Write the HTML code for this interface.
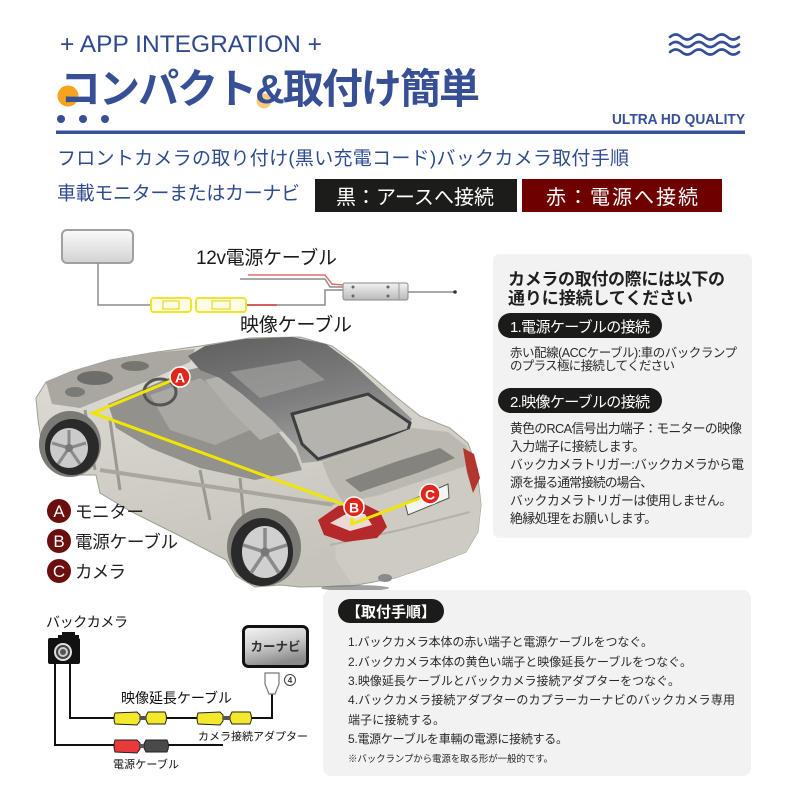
<!DOCTYPE html>
<html><head><meta charset="utf-8">
<style>
html,body{margin:0;padding:0;background:#fff;width:800px;height:800px;overflow:hidden;}
svg{display:block;}
text{font-family:"Liberation Sans","Noto Sans CJK JP",sans-serif;}
</style></head>
<body>
<svg width="800" height="800" viewBox="0 0 800 800" xmlns="http://www.w3.org/2000/svg">
<defs>
 <linearGradient id="mon" x1="0" y1="0" x2="0" y2="1"><stop offset="0" stop-color="#fbfbfb"/><stop offset="1" stop-color="#d2d2d2"/></linearGradient>
 <linearGradient id="nav" x1="0" y1="0" x2="0.35" y2="1"><stop offset="0" stop-color="#f6f6f6"/><stop offset="0.5" stop-color="#cfcfcf"/><stop offset="1" stop-color="#8a8a8a"/></linearGradient>
 <linearGradient id="body" x1="0" y1="0" x2="0.3" y2="1"><stop offset="0" stop-color="#dfddd5"/><stop offset="1" stop-color="#c6c4ba"/></linearGradient>
 <linearGradient id="roof" x1="0" y1="0" x2="0.4" y2="1"><stop offset="0" stop-color="#5e5e5e"/><stop offset="0.6" stop-color="#7f7f7f"/><stop offset="1" stop-color="#a0a09e"/></linearGradient>
 <linearGradient id="cam" x1="0" y1="0" x2="0" y2="1"><stop offset="0" stop-color="#f2f2f2"/><stop offset="1" stop-color="#b9b9b9"/></linearGradient>
</defs>

<!-- ===== HEADER ===== -->
<text x="60" y="52" font-size="24" fill="#30498c" textLength="262" lengthAdjust="spacingAndGlyphs">+ APP INTEGRATION +</text>
<g fill="none" stroke="#354f96" stroke-width="2.6" stroke-linecap="round">
 <path d="M670,37 q5.75,-5 11.5,0 t11.5,0 t11.5,0 t11.5,0 t11.5,0 t11.5,0"/>
 <path d="M670,44.5 q5.75,-5 11.5,0 t11.5,0 t11.5,0 t11.5,0 t11.5,0 t11.5,0"/>
 <path d="M670,52 q5.75,-5 11.5,0 t11.5,0 t11.5,0 t11.5,0 t11.5,0 t11.5,0"/>
</g>
<circle cx="68" cy="96" r="10.5" fill="#f6a31d"/>
<circle cx="264" cy="101" r="7.5" fill="#fbc97f"/>
<text x="60" y="103" font-size="41" font-weight="700" fill="#364f95" textLength="420">コンパクト&amp;取付け簡単</text>
<circle cx="61" cy="119" r="4" fill="#364f95"/>
<circle cx="83" cy="119" r="4" fill="#364f95"/>
<circle cx="105" cy="119" r="4" fill="#364f95"/>
<text x="612" y="124" font-size="15" font-weight="700" fill="#364f95" textLength="133" lengthAdjust="spacingAndGlyphs">ULTRA HD QUALITY</text>
<rect x="56" y="130.5" width="689" height="3.5" fill="#3a5199"/>

<text x="57" y="164.5" font-size="19" fill="#2f4b90" textLength="572">フロントカメラの取り付け(黒い充電コード)バックカメラ取付手順</text>
<text x="57" y="199.5" font-size="19" fill="#2f4b90" textLength="243">車載モニターまたはカーナビ</text>
<rect x="315" y="179" width="202" height="33" fill="#1c1c1a"/>
<text x="336" y="204" font-size="20" fill="#fff" textLength="158">黒：アースへ接続</text>
<rect x="522" y="179" width="200" height="33" fill="#6e0000"/>
<text x="546" y="204" font-size="20" fill="#fff" textLength="152">赤：電源へ接続</text>

<!-- ===== TOP CABLE DIAGRAM ===== -->
<rect x="62" y="230" width="71" height="33" rx="5" fill="url(#mon)" stroke="#a0a0a0" stroke-width="2"/>
<g fill="none" stroke="#8c8c8c" stroke-width="1.5">
 <polyline points="98,263 98,305 150,305"/>
 <polyline points="247,305 325,305 325,290 343,290"/>
 <polyline points="240,279 325,279 330,287 343,287"/>
 <line x1="408" y1="292" x2="455" y2="292"/>
</g>
<polyline points="248,275 325,275 332,284 343,285" fill="none" stroke="#e07070" stroke-width="1.5"/>
<line x1="247" y1="305" x2="277" y2="305" stroke="#d84040" stroke-width="1.5"/>
<circle cx="455" cy="292" r="1.8" fill="#333"/>
<g fill="#fffce6" stroke="#efe52a" stroke-width="2">
 <rect x="151" y="298" width="40" height="14" rx="3"/>
 <rect x="196" y="298" width="50" height="14" rx="3"/>
</g>
<g fill="none" stroke="#e6dc20" stroke-width="1.2">
 <rect x="163" y="301" width="16" height="8"/>
 <rect x="212" y="301" width="18" height="8"/>
</g>
<rect x="343" y="283" width="65" height="17" rx="2" fill="url(#cam)" stroke="#8a8a8a" stroke-width="1"/>
<g fill="#666"><circle cx="353" cy="287" r="1.5"/><circle cx="353" cy="296" r="1.5"/><circle cx="388" cy="287" r="1.5"/><circle cx="388" cy="296" r="1.5"/></g>
<line x1="399" y1="283" x2="399" y2="300" stroke="#999" stroke-width="1"/>
<text x="196" y="264" font-size="19" fill="#1a1a1a" textLength="141">12v電源ケーブル</text>
<text x="240" y="331" font-size="19" fill="#1a1a1a" textLength="112">映像ケーブル</text>

<!-- ===== CAR ===== -->
<g>
 <path d="M38,420 L36,398 L46,382 L70,372 L110,360 L150,353 L200,346 L250,338 L300,337 L332,346 L362,368 L395,396 L420,416 L450,428 L468,443 L477,468 L481,505 L478,532 L466,552 L430,566 L395,578 L352,586 L300,587 L280,585 L255,587 L236,576 L226,560 L180,536 L130,511 L100,493 L96,475 L60,475 L44,458 Z" fill="url(#body)" stroke="#a09e95" stroke-width="1"/>
 <path d="M46,382 L70,372 L110,360 L150,353 L195,349 L190,362 L150,380 L110,396 L80,408 L52,404 Z" fill="#a9a7a0"/>
 <ellipse cx="95" cy="378" rx="18" ry="7" fill="#6d6d6a"/>
 <ellipse cx="135" cy="366" rx="14" ry="5" fill="#76766f"/>
 <ellipse cx="75" cy="392" rx="10" ry="5" fill="#7a7a76"/>
 <path d="M108,404 L188,370 L205,366 L238,392 L272,424 L296,454 L302,470 L255,480 L200,468 L150,448 L116,428 Z" fill="#92918c"/>
 <path d="M150,395 L200,378 L230,400 L250,430 L215,445 L170,430 Z" fill="#a9a8a3"/>
 <path d="M205,380 L235,372 L262,400 L285,430 L260,440 L230,410 Z" fill="#b2b1ac"/>
 <ellipse cx="160" cy="392" rx="16" ry="13" fill="none" stroke="#555" stroke-width="3"/>
 <path d="M85,410 L95,470 M110,420 L120,490 M200,470 L210,520 M240,478 L245,530" stroke="#9a9890" stroke-width="3" fill="none"/>
 <path d="M100,470 L300,500 L335,505" stroke="#a8a69e" stroke-width="4" fill="none"/>
 <path d="M188,356 L205,346 L245,339 L292,337 L326,344 L352,363 L382,391 L412,419 L408,428 L372,444 L322,461 L302,463 L296,446 L272,420 L242,394 L220,378 L200,370 Z" fill="url(#roof)"/>
 <path d="M230,372 L300,360 L325,380 L260,398 Z" fill="#a8a8a6" opacity="0.6"/>
 <path d="M292,414 L368,394 L410,423 L408,430 L318,459 L302,444 Z" fill="#b4b3ae" stroke="#3e3e3e" stroke-width="3"/>
 <path d="M322,462 L372,444 L412,428 L448,432 L466,446 L472,464 L430,478 L380,495 L345,505 L330,482 Z" fill="#bab8af"/>
 <path d="M345,480 L395,462 L440,448 L455,458 L420,472 L360,492 Z" fill="#84837e"/>
 <path d="M332,505 L380,495 L430,478 L476,466 L481,505 L478,532 L466,552 L430,566 L395,578 L352,584 L336,560 Z" fill="#cecbc2"/>
 <path d="M330,545 L400,530 L470,512" stroke="#b3b1a8" stroke-width="2" fill="none"/>
 <path d="M318,520 L338,506 L362,503 L380,512 L387,527 L377,538 L345,542 L324,535 Z" fill="#b6292a"/>
 <path d="M330,523 L348,513 L365,514 L372,525 L350,531 Z" fill="#ead9d7"/>
 <path d="M463,448 L474,454 L480,478 L473,493 L467,472 Z" fill="#b3362e"/>
 <path d="M405,503 L448,484 L449,498 L408,515 Z" fill="#f3f3f1" stroke="#555" stroke-width="1"/>
 <ellipse cx="385" cy="578" rx="7" ry="4" fill="#8a8a8a"/>
 <ellipse cx="355" cy="588" rx="34" ry="3" fill="#777" opacity="0.7"/>
 <ellipse cx="70" cy="444" rx="31" ry="33" fill="#7b7a75"/>
 <ellipse cx="72" cy="447" rx="27" ry="28" fill="#2a2a2a"/>
 <ellipse cx="69" cy="448" rx="19" ry="20" fill="#cbcbcb"/>
 <g stroke="#8a8a8a" stroke-width="3"><line x1="69" y1="448" x2="69" y2="430"/><line x1="69" y1="448" x2="86" y2="443"/><line x1="69" y1="448" x2="80" y2="464"/><line x1="69" y1="448" x2="58" y2="464"/><line x1="69" y1="448" x2="52" y2="443"/></g>
 <circle cx="69" cy="448" r="4" fill="#777"/>
 <ellipse cx="264" cy="547" rx="37" ry="39" fill="#7b7a75"/>
 <ellipse cx="262" cy="552" rx="31" ry="34" fill="#2a2a2a"/>
 <ellipse cx="265" cy="552" rx="23" ry="26" fill="#d0d0d0"/>
 <g stroke="#8a8a8a" stroke-width="3.5"><line x1="265" y1="552" x2="265" y2="528"/><line x1="265" y1="552" x2="287" y2="545"/><line x1="265" y1="552" x2="279" y2="573"/><line x1="265" y1="552" x2="251" y2="573"/><line x1="265" y1="552" x2="243" y2="545"/></g>
 <circle cx="265" cy="552" r="4.5" fill="#777"/>
 <polyline points="180,377 93,413 348,506" fill="none" stroke="#f1e600" stroke-width="3"/>
 <polyline points="352,514 352,524 428,495" fill="none" stroke="#f1e600" stroke-width="3"/>
 <circle cx="180" cy="377" r="10" fill="#e1261c" stroke="#fff" stroke-width="1.5"/>
 <text x="180" y="382.5" font-size="14" font-weight="700" fill="#fff" text-anchor="middle">A</text>
 <circle cx="354" cy="507" r="10" fill="#e1261c" stroke="#fff" stroke-width="1.5"/>
 <text x="354" y="512.5" font-size="14" font-weight="700" fill="#fff" text-anchor="middle">B</text>
 <circle cx="430" cy="494" r="10" fill="#e1261c" stroke="#fff" stroke-width="1.5"/>
 <text x="430" y="499.5" font-size="14" font-weight="700" fill="#fff" text-anchor="middle">C</text>
</g>

<!-- legend -->
<circle cx="59" cy="511" r="12" fill="#6a0e0e"/>
<text x="59" y="517" font-size="17" fill="#fff" text-anchor="middle">A</text>
<text x="75" y="518" font-size="17.5" fill="#222" textLength="69">モニター</text>
<circle cx="59" cy="541" r="12" fill="#6a0e0e"/>
<text x="59" y="547" font-size="17" fill="#fff" text-anchor="middle">B</text>
<text x="75" y="548" font-size="17.5" fill="#222" textLength="103">電源ケーブル</text>
<circle cx="59" cy="571" r="12" fill="#6a0e0e"/>
<text x="59" y="577" font-size="17" fill="#fff" text-anchor="middle">C</text>
<text x="75" y="578" font-size="17.5" fill="#222" textLength="51">カメラ</text>

<!-- ===== RIGHT PANEL ===== -->
<rect x="493" y="254" width="259" height="284" rx="6" fill="#f2f2f2"/>
<text x="508" y="285" font-size="17" font-weight="700" fill="#1e1e1e" textLength="217">カメラの取付の際には以下の</text>
<text x="508" y="304" font-size="17" font-weight="700" fill="#1e1e1e" textLength="185">通りに接続してください</text>
<rect x="498" y="313" width="164" height="25" rx="12.5" fill="#1b1b19"/>
<text x="510" y="332" font-size="15" fill="#fff" textLength="140">1.電源ケーブルの接続</text>
<text x="510" y="357" font-size="12.5" fill="#2a2a2a" textLength="227">赤い配線(ACCケーブル):車のバックランプ</text>
<text x="510" y="370" font-size="12.5" fill="#2a2a2a" textLength="165">のプラス極に接続してください</text>
<rect x="498" y="388" width="164" height="25" rx="12.5" fill="#1b1b19"/>
<text x="510" y="407" font-size="15" fill="#fff" textLength="140">2.映像ケーブルの接続</text>
<g font-size="12.8" fill="#2a2a2a">
 <text x="510" y="433" textLength="232">黄色のRCA信号出力端子：モニターの映像</text>
 <text x="510" y="451" textLength="135">入力端子に接続します。</text>
 <text x="510" y="469" textLength="234">バックカメラトリガー:バックカメラから電</text>
 <text x="510" y="487" textLength="143">源を撮る通常接続の場合、</text>
 <text x="510" y="505" textLength="222">バックカメラトリガーは使用しません。</text>
 <text x="510" y="523" textLength="147">絶縁処理をお願いします。</text>
</g>

<!-- ===== BOTTOM LEFT DIAGRAM ===== -->
<text x="46" y="627" font-size="14" fill="#111" textLength="82">バックカメラ</text>
<rect x="62" y="632" width="13" height="4" fill="#111"/>
<rect x="58" y="635" width="21" height="3" fill="#111"/>
<rect x="48" y="638" width="32" height="26" rx="2" fill="#111"/>
<circle cx="63" cy="652" r="9" fill="#e0e0e0"/>
<circle cx="63" cy="652" r="7" fill="#444"/>
<circle cx="63" cy="652" r="5" fill="#cfcfcf"/>
<circle cx="63" cy="652" r="3" fill="#555"/>
<g fill="none" stroke="#111" stroke-width="2">
 <polyline points="55,664 55,745 223,745"/>
 <polyline points="70,664 70,718 272,718 272,694"/>
</g>
<g stroke="#222" stroke-width="1">
 <path d="M115,713 Q113,718 115,724 L137,725 L140,721 L140,715 L137,712 Z" fill="#f3e82c"/>
 <path d="M148,712 L165,712 Q168,718 165,724 L148,724 L146,720 L146,716 Z" fill="#f3e82c"/>
 <path d="M198,713 Q196,718 198,724 L220,725 L223,721 L223,715 L220,712 Z" fill="#f3e82c"/>
 <path d="M232,712 L250,712 Q253,718 250,724 L232,724 L230,720 L230,716 Z" fill="#f3e82c"/>
 <path d="M115,740 Q113,746 115,752 L137,753 L140,749 L140,743 L137,740 Z" fill="#e8393b"/>
 <path d="M146,740 L167,740 Q170,746 167,752 L146,752 L144,748 L144,744 Z" fill="#4a4a4a"/>
</g>
<g fill="#555"><rect x="140" y="716" width="6" height="4"/><rect x="223" y="716" width="7" height="4"/><rect x="140" y="744" width="4" height="4"/></g>
<text x="121" y="703" font-size="14" fill="#111" textLength="111">映像延長ケーブル</text>
<text x="198" y="740" font-size="11" fill="#111" textLength="110">カメラ接続アダプター</text>
<text x="113" y="768" font-size="11" fill="#111" textLength="66">電源ケーブル</text>
<rect x="243.5" y="626.5" width="64" height="40" rx="5" fill="url(#nav)" stroke="#111" stroke-width="3"/>
<text x="275.5" y="651" font-size="12.5" font-weight="700" fill="#333" text-anchor="middle" textLength="50">カーナビ</text>
<path d="M265,673 L279,673 L279,684 L275,694 L269,694 L265,684 Z" fill="#fff" stroke="#777" stroke-width="1.2"/>
<circle cx="290" cy="680" r="5.5" fill="#fff" stroke="#444" stroke-width="1"/>
<text x="290" y="683" font-size="8" font-weight="700" fill="#333" text-anchor="middle">4</text>

<!-- ===== BOTTOM RIGHT PANEL ===== -->
<rect x="323" y="590" width="428" height="186" rx="8" fill="#f2f2f2"/>
<rect x="338" y="599" width="106" height="24" rx="12" fill="#1b1b19"/>
<text x="391" y="617" font-size="15" font-weight="700" fill="#fff" text-anchor="middle">【取付手順】</text>
<g font-size="12" fill="#2a2a2a">
 <text x="348" y="646" textLength="305">1.バックカメラ本体の赤い端子と電源ケーブルをつなぐ。</text>
 <text x="348" y="666" textLength="344">2.バックカメラ本体の黄色い端子と映像延長ケーブルをつなぐ。</text>
 <text x="348" y="685" textLength="332">3.映像延長ケーブルとバックカメラ接続アダプターをつなぐ。</text>
 <text x="348" y="704" textLength="387">4.バックカメラ接続アダプターのカプラーカーナビのバックカメラ専用</text>
 <text x="348" y="724" textLength="97">端子に接続する。</text>
 <text x="348" y="743" textLength="220">5.電源ケーブルを車輛の電源に接続する。</text>
</g>
<text x="348" y="762" font-size="9.5" fill="#2a2a2a" textLength="205">※バックランプから電源を取る形が一般的です。</text>
</svg>
</body></html>
